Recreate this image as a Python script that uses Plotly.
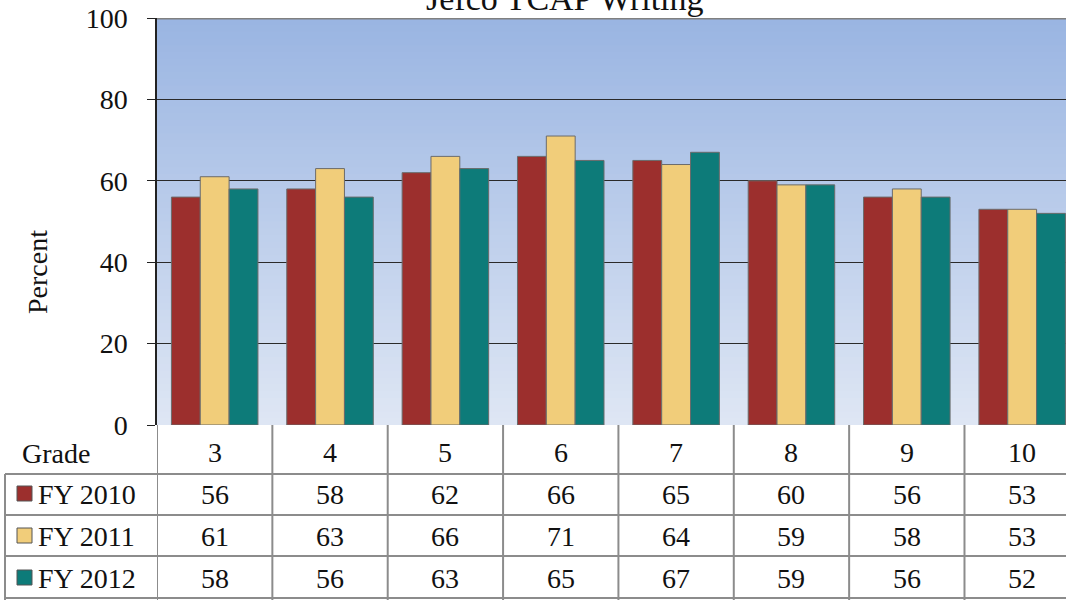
import plotly.graph_objects as go

grades = ["3", "4", "5", "6", "7", "8", "9", "10"]
series_names = ["FY 2010", "FY 2011", "FY 2012"]
fy2010 = [56, 58, 62, 66, 65, 60, 56, 53]
fy2011 = [61, 63, 66, 71, 64, 59, 58, 53]
fy2012 = [58, 56, 63, 65, 67, 59, 56, 52]
y_ticks = [0, 20, 40, 60, 80, 100]

colors = ["#9C2F2D", "#F1CD7A", "#0D7B79"]
series = [fy2010, fy2011, fy2012]

FONT = "Georgia, 'Liberation Serif', serif"
W, H = 1066, 600
PL, PT, PB = 157, 18, 425  # plot area in pixels


def yp(p):
    return 1 - p / H


def xp(p):
    return p / W


fig = go.Figure()
for name, vals, col in zip(series_names, series, colors):
    fig.add_trace(go.Bar(
        x=grades, y=vals, name=name,
        marker=dict(color=col, line=dict(color="#6b6b6b", width=1)),
        showlegend=False,
    ))

shapes = []
# gradient background (overlapping bands, no seams)
n = 60
top = (0x9A, 0xB5, 0xE2)
bot = (0xDE, 0xE6, 0xF4)
for i in range(n):
    t = i / (n - 1)
    c = tuple(round(bot[k] + (top[k] - bot[k]) * t) for k in range(3))
    shapes.append(dict(type="rect", xref="x domain", yref="y", x0=0, x1=1,
                       y0=100 * i / n, y1=100,
                       fillcolor="rgb(%d,%d,%d)" % c, line=dict(width=0),
                       layer="below"))
# top border
shapes.append(dict(type="line", xref="x domain", yref="y", x0=0, x1=1, y0=100, y1=100,
                   line=dict(color="#808080", width=3), layer="above"))

grid_col = "#8c8c8c"
ncat = len(grades)
# table vertical lines
for i in range(ncat):
    shapes.append(dict(type="line", xref="x", yref="paper", x0=i - 0.5, x1=i - 0.5,
                       y0=yp(425), y1=0, line=dict(color=grid_col, width=2)))
# table horizontal lines
for p in [474, 515, 556, 598]:
    shapes.append(dict(type="line", xref="paper", yref="paper", x0=xp(5), x1=1,
                       y0=yp(p), y1=yp(p), line=dict(color=grid_col, width=2)))
# left border of series rows
shapes.append(dict(type="line", xref="paper", yref="paper", x0=xp(5), x1=xp(5),
                   y0=yp(474), y1=0, line=dict(color=grid_col, width=2)))

FS = 28
annotations = []
row_y = [494, 536, 578]
for j, g in enumerate(grades):
    annotations.append(dict(x=j, y=yp(452), xref="x", yref="paper", text=g,
                            xanchor="center", yanchor="middle", showarrow=False,
                            font=dict(size=FS, color="#111", family=FONT)))
    for r, vals in enumerate(series):
        annotations.append(dict(x=j, y=yp(row_y[r]), xref="x", yref="paper",
                                text=str(vals[j]), xanchor="center", yanchor="middle",
                                showarrow=False,
                                font=dict(size=FS, color="#111", family=FONT)))
annotations.append(dict(x=xp(20), y=yp(453), xref="paper", yref="paper", text="Grade",
                        xanchor="left", yanchor="middle", showarrow=False,
                        font=dict(size=FS, color="#111", family=FONT)))
for r, (name, col) in enumerate(zip(series_names, colors)):
    annotations.append(dict(x=xp(36), y=yp(row_y[r]), xref="paper", yref="paper", text=name,
                            xanchor="left", yanchor="middle", showarrow=False,
                            font=dict(size=FS, color="#111", family=FONT)))
    shapes.append(dict(type="rect", xref="paper", yref="paper",
                       x0=xp(17), x1=xp(32), y0=yp(row_y[r] + 7), y1=yp(row_y[r] - 8),
                       fillcolor=col, line=dict(color="#555", width=1)))

annotations.append(dict(x=xp(37), y=yp(272), xref="paper", yref="paper", text="Percent",
                        textangle=-90, xanchor="center", yanchor="middle", showarrow=False,
                        font=dict(size=FS, color="#111", family=FONT)))
annotations.append(dict(x=xp(565), y=1, xref="paper", yref="paper",
                        text="Jefco TCAP Writing", xanchor="center", yanchor="middle",
                        yshift=2, showarrow=False,
                        font=dict(size=34, color="#111", family=FONT)))

fig.update_layout(
    width=W, height=H,
    margin=dict(l=0, r=0, t=0, b=0, pad=0, autoexpand=False),
    paper_bgcolor="white", plot_bgcolor="rgba(0,0,0,0)",
    barmode="group", bargap=0.25, bargroupgap=0,
    shapes=shapes, annotations=annotations,
    font=dict(family=FONT, color="#111"),
)
fig.update_xaxes(type="category", range=[-0.5, ncat - 0.5 - 0.12],
                 domain=[xp(PL), 1], automargin=False,
                 showticklabels=False, showgrid=False, ticks="", zeroline=False)
fig.update_yaxes(range=[0, 100], tickvals=y_ticks, ticks="outside", ticklen=8,
                 domain=[yp(PB), yp(PT)], automargin=False,
                 tickcolor="#222", showline=True, linecolor="#222", linewidth=1.5,
                 showgrid=True, gridcolor="#2a2a2a", gridwidth=1, zeroline=False,
                 tickfont=dict(size=FS, family=FONT, color="#111"),
                 ticklabelstandoff=14)

fig.write_html("out.html", config={"displayModeBar": False},
               post_script="document.body.style.margin='0';document.body.style.overflow='hidden';")
